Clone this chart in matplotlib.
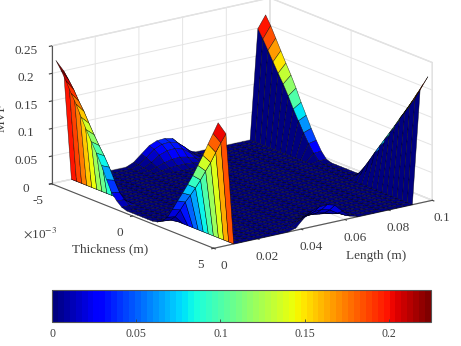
import numpy as np
import matplotlib
matplotlib.use("Agg")
import matplotlib.pyplot as plt
from matplotlib.colors import Normalize
from matplotlib.cm import ScalarMappable

plt.rcParams['font.family'] = ['Liberation Serif', 'DejaVu Serif']

W, H = 461, 346
TXT = '#404040'

# mesh coordinates
length_m = np.linspace(0.002, 0.098, 28)
thickness_m = np.linspace(-0.005, 0.005, 33)

# MVF along the two long edges, read from the thin ends inwards
near_lo_edge = [.222, .208, .192, .173, .157, .137, .118, .100, .083, .064, .042, .022, .011, .003]
near_lo_shoulder = [.200, .187, .173, .156, .141, .123, .106, .090, .075, .058, .038, .020, .010, .003]
near_hi_edge = [.226, .203, .180, .156, .134, .112, .092, .073, .055, .036, .018, .007, .002]
near_hi_shoulder = [.203, .183, .162, .140, .121, .101, .083, .066, .050, .032, .016, .006, .002]
far_lo_edge = [.221, .205, .186, .167, .148, .130, .110, .088, .068, .048, .030, .014, .003]
far_lo_shoulder = [.199, .184, .167, .150, .133, .117, .099, .079, .061, .043, .027, .013, .003]
far_hi_edge = [.226, .208, .190, .172, .154, .136, .118, .100, .082, .064, .046, .028, .012, .002]
far_hi_shoulder = [.205, .187, .171, .155, .139, .122, .106, .090, .074, .058, .041, .025, .011, .002]

# local rises on the two thickness faces, mid-length
bump_lo = [[.006, .018, .030, .036, .037, .034, .020, .006],
           [.005, .015, .027, .033, .034, .030, .018, .005],
           [.003, .010, .020, .025, .026, .022, .012, .003],
           [.001, .005, .010, .013, .014, .011, .006, .001],
           [.000, .002, .004, .005, .005, .004, .002, .000]]
bump_hi = [[.000, .000, .001, .002, .002, .001, .000, .000],
           [.000, .001, .003, .005, .005, .003, .001, .000],
           [.001, .004, .008, .011, .012, .009, .004, .001],
           [.002, .010, .017, .021, .022, .018, .009, .002],
           [.004, .018, .028, .033, .034, .030, .016, .004]]

z_ticks = [0, .05, .1, .15, .2, .25]
z_labels = ['0', '0.05', '0.1', '0.15', '0.2', '0.25']
length_ticks = [0, .02, .04, .06, .08, .1]
length_labels = ['0', '0.02', '0.04', '0.06', '0.08', '0.1']
thickness_ticks = [-.005, 0, .005]
thickness_labels = ['-5', '0', '5']
cbar_ticks = [0, .05, .1, .15, .2]
cbar_labels = ['0', '0.05', '0.1', '0.15', '0.2']
z_max = 0.225

# assemble the field: rows run along thickness, columns along length
Z = np.zeros((len(thickness_m), len(length_m)))
for col, lo, hi in [(0, near_lo_edge, near_hi_edge), (1, near_lo_shoulder, near_hi_shoulder),
                    (-1, far_lo_edge, far_hi_edge), (-2, far_lo_shoulder, far_hi_shoulder)]:
    Z[:len(lo), col] = lo
    Z[-len(hi):, col] = hi[::-1]
Z[:5, 10:18] = bump_lo
Z[-5:, 10:18] = bump_hi

X, Y = np.meshgrid(length_m, thickness_m)
cmap = plt.get_cmap('jet', 64)
norm = Normalize(0, z_max)

fig = plt.figure(figsize=(W / 100, H / 100), dpi=100)
side = 399
ax = fig.add_axes([37 / W, 18 / H, side / W, side / H], projection='3d')
ax.patch.set_alpha(0)
ax.set_proj_type('ortho')
ax.set_box_aspect((1, 1, 0.53))
ax.view_init(elev=17.2, azim=233.4)

# each face takes the colour of its lowest-index corner
ax.plot_surface(X, Y, Z, facecolors=cmap(norm(Z[:-1, :-1])), rstride=1, cstride=1,
                shade=False, edgecolor=(0, 0, 0, .75), linewidth=0.35, antialiased=True)

ax.set_xlim(0, .1)
ax.set_ylim(.005, -.005)
ax.set_zlim(0, .25)
ax.set_xticks(length_ticks, length_labels)
ax.set_yticks(thickness_ticks, thickness_labels)
ax.set_zticks(z_ticks, z_labels)

for axis in (ax.xaxis, ax.yaxis, ax.zaxis):
    axis.set_pane_color((1, 1, 1, 1))
    axis.pane.set_edgecolor('#dcdcdc')
    axis.line.set_color('#555555')
    axis.line.set_linewidth(.8)
    axis._axinfo['grid'].update(color='#e4e4e4', linewidth=.7)
    axis._axinfo['tick'].update(inward_factor=.12, outward_factor=0.0)
ax.tick_params(colors=TXT, labelsize=9.5, pad=0, length=3, width=.6)
ax.xaxis.set_tick_params(pad=1)
ax.yaxis.set_tick_params(pad=1)
ax.zaxis.set_tick_params(pad=2)


def at(x, y, s, **kw):
    fig.text(x / W, 1 - y / H, s, color=TXT, ha='center', va='center', **kw)


at(110, 249, 'Thickness (m)', fontsize=9.5)
at(376, 256, 'Length (m)', fontsize=9.5)
at(2, 118, 'MVF', fontsize=9.5, rotation=90)
at(40, 233, r'$\times$10$^{-3}$', fontsize=9.5, math_fontfamily='stix')

cax = fig.add_axes([52 / W, 1 - 322 / H, 379 / W, 32 / H])
cb = fig.colorbar(ScalarMappable(norm=norm, cmap=cmap), cax=cax, orientation='horizontal')
cb.set_ticks(cbar_ticks, labels=cbar_labels)
cb.ax.tick_params(direction='in', colors=TXT, labelsize=8.5, length=2.5, width=.6, pad=4)
cb.outline.set_edgecolor('#555555')
cb.outline.set_linewidth(.8)

fig.savefig('out.png', dpi=100)
